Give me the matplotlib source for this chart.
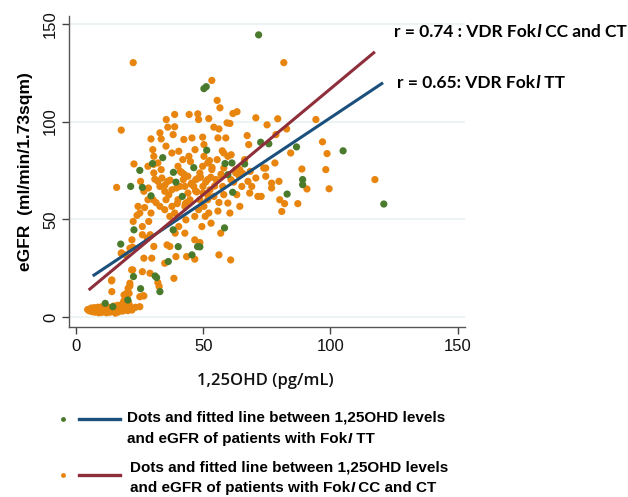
import numpy as np
import matplotlib
matplotlib.use("Agg")
import matplotlib.pyplot as plt
from matplotlib.lines import Line2D

# 1,25OHD (pg/mL) and eGFR, VDR FokI TT group
tt_x = [71.8, 50.3, 51.2, 25.1, 21.5, 26.1, 29.5, 34.1, 22.8, 17.6, 22.6, 25.4,
        31.1, 31.7, 33.0, 11.5, 20.4, 14.5, 39.3, 38.3, 41.8, 40.2, 38.2, 45.6,
        47.8, 46.3, 51.4, 58.4, 58.6, 61.3, 61.6, 66.3, 72.6, 75.8, 86.7, 89.1,
        89.1, 83.0, 105.0, 121.0, 36.3, 59.7, 30.1, 48.7]
tt_y = [144.3, 116.8, 117.8, 75.0, 66.8, 66.3, 62.0, 81.5, 44.6, 37.3, 20.7, 14.5,
        21.0, 20.2, 13.0, 7.0, 8.7, 5.3, 69.0, 74.0, 61.7, 36.0, 44.6, 31.8,
        36.0, 76.4, 85.3, 45.6, 78.5, 78.8, 63.8, 78.3, 89.4, 88.6, 87.0, 70.3,
        67.7, 62.9, 85.0, 57.8, 28.4, 72.8, 78.5, 35.9]

# VDR FokI CC and CT group
cc_x = [22.5, 81.7, 53.4, 55.5, 56.6, 17.8, 16.0, 117.5, 96.9, 94.3, 98.7, 98.2,
        99.5, 90.8, 88.8, 87.2, 84.4, 82.8, 79.3, 78.6, 78.2, 79.8, 80.1, 82.0,
        80.9, 75.1, 73.8, 74.6, 72.8, 70.7, 67.9, 67.3, 66.3, 67.6, 68.3, 70.7,
        64.4, 63.3, 61.7, 60.5, 59.4, 58.9, 56.2, 55.8, 58.1, 59.7, 58.1, 62.8,
        60.9, 57.7, 56.2, 55.8, 56.9, 56.2, 60.8, 52.2, 54.2, 49.8, 50.3, 51.8,
        53.4, 51.8, 49.9, 48.2, 47.9, 44.5, 45.6, 46.8, 44.4, 42.4, 38.8, 38.8,
        38.2, 36.1, 35.5, 35.4, 37.7, 40.4, 42.0, 33.0, 33.5, 29.5, 30.2, 30.6,
        30.6, 32.2, 28.3, 22.8, 25.4, 26.7, 28.3, 29.5, 28.6, 26.1, 22.5, 26.1,
        29.2, 28.0, 30.6, 29.8, 26.7, 22.3, 21.2, 19.6, 17.8, 22.3, 26.1, 29.1,
        21.2, 20.9, 20.1, 18.9, 14.1, 14.1, 26.4, 25.1, 32.2, 32.7, 34.9, 35.8,
        36.9, 38.5, 39.3, 39.0, 40.4, 38.8, 37.7, 35.4, 34.9, 36.9, 37.7, 36.1,
        33.8, 30.6, 32.2, 33.5, 41.7, 42.2, 42.8, 44.0, 44.8, 42.8, 43.2, 42.8,
        43.5, 46.7, 46.7, 48.7, 49.5, 46.7, 48.2, 48.7, 50.3, 51.8, 53.1, 52.2,
        52.7, 54.2, 50.8, 46.3, 47.1, 48.7, 49.8, 50.3, 55.0, 57.4, 58.1, 59.7,
        60.5, 62.8, 65.2, 63.2, 64.4, 69.1, 71.5, 76.9, 76.9, 74.6, 40.1, 40.1,
        40.9, 34.9, 33.0, 30.3, 33.0, 24.4, 25.1, 22.0, 19.9, 20.5, 14.0, 17.9,
        21.2, 21.9, 25.1, 26.7, 44.0, 45.2, 47.5, 53.0, 36.5, 39.8, 41.0, 48.0,
        54.5, 57.0, 62.0, 65.5, 31.5, 27.0, 24.0, 43.0, 50.0, 52.5,
        37.0, 39.5, 42.5, 45.5, 47.0, 49.0, 51.0, 53.5, 55.5, 57.5, 35.0, 31.0,
        28.5, 45.0, 52.0, 61.0, 64.0, 68.5, 43.5, 41.5,
        # low cluster near eGFR 3
        4.6, 5.2, 5.8, 6.3, 6.9, 7.4, 7.9, 8.4, 8.8, 9.3, 9.8, 10.2, 10.7, 11.2,
        11.8, 12.3, 12.8, 13.4, 13.9, 14.5, 15.0, 15.6, 16.1, 16.7, 17.2, 17.8,
        18.4, 19.0, 19.7, 20.4, 21.2, 22.0, 23.4, 6.0, 7.2, 8.6, 10.0, 11.5,
        13.0, 14.8, 16.4, 18.0, 19.5, 21.0, 12.0, 15.5, 18.8, 20.6, 17.0, 9.0]
cc_y = [130.1, 130.1, 121.0, 110.8, 107.0, 95.6, 66.3, 70.3, 89.6, 101.0, 83.6, 75.4,
        65.6, 65.5, 75.7, 58.0, 83.9, 96.2, 101.4, 93.3, 78.8, 69.4, 60.0, 58.0,
        54.0, 98.3, 76.2, 72.0, 61.7, 101.9, 88.2, 92.8, 80.5, 69.4, 63.4, 71.1,
        56.6, 105.0, 104.1, 99.0, 99.3, 91.6, 96.2, 91.6, 83.9, 82.2, 76.2, 75.4,
        70.3, 66.8, 58.6, 54.2, 42.9, 31.8, 29.2, 101.5, 97.1, 92.0, 88.2, 78.8,
        75.4, 70.3, 66.8, 101.0, 103.9, 103.6, 91.6, 85.6, 82.2, 90.8, 103.6, 97.3,
        93.3, 97.1, 101.0, 87.4, 83.9, 84.8, 80.5, 94.2, 91.1, 91.1, 85.6, 82.2,
        78.1, 78.8, 77.1, 78.3, 69.4, 64.3, 60.0, 53.2, 48.9, 46.3, 48.9, 42.1,
        42.1, 40.3, 36.1, 30.1, 30.1, 35.7, 35.2, 31.8, 32.6, 24.1, 23.2, 22.4,
        17.3, 12.1, 9.6, 11.3, 19.0, 13.0, 10.9, 5.3, 17.6, 15.6, 27.5, 36.9,
        36.1, 19.8, 30.9, 42.9, 46.3, 53.2, 56.6, 60.0, 54.9, 51.5, 65.1, 69.4,
        71.1, 73.7, 69.4, 75.4, 73.7, 70.3, 66.8, 63.4, 60.0, 56.6, 49.7, 42.9,
        30.9, 29.6, 39.5, 38.1, 46.3, 51.5, 54.9, 60.0, 56.6, 60.0, 48.0, 53.2,
        65.1, 61.7, 51.5, 66.8, 70.3, 73.7, 77.1, 82.2, 70.3, 72.0, 62.6, 58.3,
        53.2, 73.7, 66.8, 62.6, 75.4, 66.8, 61.7, 66.0, 68.5, 76.2, 77.1, 60.0,
        66.8, 64.3, 66.8, 60.0, 56.6, 56.6, 53.2, 39.5, 12.1, 14.7, 18.5, 32.8,
        15.9, 24.1, 10.4, 10.8, 72.0, 68.0, 64.0, 71.5, 62.5, 58.0, 74.5, 71.0,
        67.0, 73.0, 69.0, 73.5, 58.5, 56.0, 52.0, 58.0, 63.5, 80.0,
        70.0, 66.0, 73.0, 68.5, 64.5, 71.5, 69.0, 76.5, 80.5, 85.0, 67.5, 70.5,
        66.0, 79.5, 62.0, 83.0, 72.5, 74.5, 58.5, 74.0,
        3.8, 3.2, 4.0, 2.8, 3.6, 2.5, 4.2, 3.1, 2.6, 3.9, 3.3, 2.4, 4.1, 3.0,
        2.7, 3.7, 3.2, 2.5, 4.0, 3.4, 2.9, 3.6, 3.0, 2.6, 4.3, 3.5, 3.1, 4.6,
        3.8, 3.3, 4.0, 3.6, 5.0, 4.6, 4.8, 5.0, 5.2, 5.4, 4.9, 5.6, 6.0, 6.4,
        7.0, 6.2, 2.2, 2.0, 8.2, 7.6, 5.8, 2.2]

# fitted lines: slope, intercept and x range
tt_fit = dict(slope=0.866, intercept=15.3, x_from=6.6, x_to=120.7)
cc_fit = dict(slope=1.083, intercept=8.4, x_from=5.0, x_to=117.5)

x_ticks = [0, 50, 100, 150]
y_ticks = [0, 50, 100, 150]

ORANGE = "#E8850E"
GREEN = "#4A7A2C"
BLUE = "#1B4F7C"
RED = "#8E2E3B"

plt.rcParams['font.family'] = ['Liberation Sans', 'DejaVu Sans']

fig = plt.figure(figsize=(6.28, 4.97), dpi=100)
ax = fig.add_axes([0.110, 0.342, 0.630, 0.626])

ax.scatter(cc_x, cc_y, s=27, color=ORANGE, edgecolors='none', zorder=3)
ax.scatter(tt_x, tt_y, s=27, color=GREEN, edgecolors='none', zorder=4)

for fit, col in [(tt_fit, BLUE), (cc_fit, RED)]:
    xs = np.array([fit['x_from'], fit['x_to']])
    ax.plot(xs, fit['slope'] * xs + fit['intercept'], color=col, lw=2.2,
            solid_capstyle='butt', zorder=5)

ax.set_xlim(-2.7, 152.8)
ax.set_ylim(-5.1, 154)
ax.set_xticks(x_ticks)
ax.set_yticks(y_ticks)
ax.set_yticklabels([str(v) for v in y_ticks], rotation=90, va='center')
ax.tick_params(axis='both', labelsize=12, length=5, width=1, color='#444444',
               labelcolor='#111111')
ax.tick_params(axis='y', pad=3)
ax.grid(axis='y', color='#E8F1F2', lw=1.2, zorder=0)
ax.set_axisbelow(True)
for side in ['top', 'right']:
    ax.spines[side].set_visible(False)
for side in ['left', 'bottom']:
    ax.spines[side].set_color('#555555')
    ax.spines[side].set_linewidth(1.0)

ax.set_ylabel('eGFR  (ml/min/1.73sqm)', fontsize=12.5, fontweight='bold', labelpad=7)
fig.text(0.422, 1 - 381 / 497, '1,25OHD (pg/mL)', family='Open Sans', fontsize=12,
         fontweight='semibold', ha='center', va='center', color='#111111')


def pieces(x, y, parts, size, family, **kw):
    """Write text pieces one after another, some in italic."""
    r = fig.canvas.get_renderer()
    px = x * fig.bbox.width
    for s, style in parts:
        t = fig.text(px / fig.bbox.width, y, s, fontsize=size, family=family,
                     fontweight='bold', style=style, va='center', ha='left', **kw)
        px = t.get_window_extent(r).x1


pieces(394 / 628, 1 - 32 / 497,
       [('r = 0.74 : VDR Fok', 'normal'), ('I', 'italic'), (' CC and CT', 'normal')],
       12.5, 'Lato')
pieces(397 / 628, 1 - 83 / 497,
       [('r = 0.65: VDR Fok', 'normal'), ('I', 'italic'), (' TT', 'normal')],
       12.5, 'Lato')

# legend below the plot
leg_font = ['Liberation Sans Narrow', 'Liberation Sans']
entries = [
    (GREEN, BLUE, 419, 127, 418, 439, ' TT'),
    (ORANGE, RED, 475, 130, 468, 488, ' CC and CT'),
]
for dot_col, line_col, ymark, xtext, y1, y2, tail in entries:
    fig.add_artist(Line2D([63 / 628], [1 - ymark / 497], marker='o', ms=3.5,
                          color=dot_col, mec='none', transform=fig.transFigure))
    fig.add_artist(Line2D([79 / 628, 120 / 628], [1 - ymark / 497] * 2, lw=2.4,
                          color=line_col, transform=fig.transFigure))
    pieces(xtext / 628, 1 - y1 / 497,
           [('Dots and fitted line between 1,25OHD levels', 'normal')], 11, leg_font)
    pieces(xtext / 628, 1 - y2 / 497,
           [('and eGFR of patients with Fok', 'normal'), ('I', 'italic'), (tail, 'normal')],
           11, leg_font)

fig.savefig('out.png', dpi=100)
